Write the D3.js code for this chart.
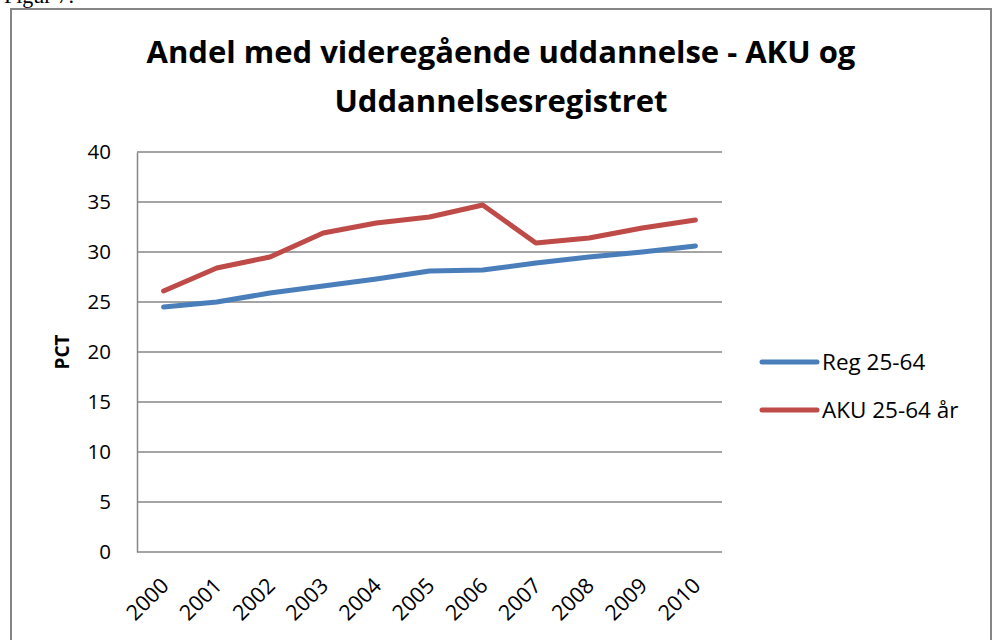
<!DOCTYPE html>
<html>
<head>
<meta charset="utf-8">
<script src="https://cdn.jsdelivr.net/npm/d3@7"></script>
<style>
  body { margin: 0; background: #fff; }
  svg { display: block; }
</style>
</head>
<body>
<svg id="chart" width="996" height="640"></svg>
<script>
const years = ["2000", "2001", "2002", "2003", "2004", "2005", "2006", "2007", "2008", "2009", "2010"];
const regValues = [24.5, 25.0, 25.9, 26.6, 27.3, 28.1, 28.2, 28.9, 29.5, 30.0, 30.6];
const akuValues = [26.1, 28.4, 29.5, 31.9, 32.9, 33.5, 34.7, 30.9, 31.4, 32.4, 33.2];
const yTicks = [0, 5, 10, 15, 20, 25, 30, 35, 40];
const seriesNames = ["Reg 25-64", "AKU 25-64 år"];
const seriesColors = ["#4a7ebb", "#be4b48"];
const titleLines = ["Andel med videregående uddannelse - AKU og", "Uddannelsesregistret"];

const font = "'Open Sans', Lato, sans-serif";
const svg = d3.select("#chart");

// caption above the chart, mostly cut off
svg.append("text")
  .attr("x", 4).attr("y", 3)
  .attr("font-family", "'Liberation Serif', serif")
  .attr("font-size", 22)
  .text("Figur 7:");

// chart frame
svg.append("rect")
  .attr("x", 11).attr("y", 9)
  .attr("width", 980).attr("height", 650)
  .attr("fill", "#fff")
  .attr("stroke", "#868686")
  .attr("stroke-width", 2);

const plot = { left: 137, right: 722, top: 152, bottom: 552 };

const x = d3.scalePoint()
  .domain(years)
  .range([plot.left, plot.right])
  .padding(0.5);

const y = d3.scaleLinear()
  .domain([0, 40])
  .range([plot.bottom, plot.top]);

// title
svg.append("text")
  .attr("x", 501).attr("y", 63)
  .attr("text-anchor", "middle")
  .attr("font-family", font)
  .attr("font-weight", "bold")
  .attr("font-size", 31)
  .selectAll("tspan")
  .data(titleLines)
  .join("tspan")
  .attr("x", 501)
  .attr("dy", (d, i) => i === 0 ? 0 : 49)
  .text(d => d);

// gridlines
svg.append("g")
  .selectAll("line")
  .data(yTicks.filter(t => t > 0))
  .join("line")
  .attr("x1", plot.left).attr("x2", plot.right)
  .attr("y1", d => y(d)).attr("y2", d => y(d))
  .attr("stroke", "#868686")
  .attr("stroke-width", 1.5);

// y axis
const yAxis = svg.append("g")
  .attr("transform", `translate(${plot.left},0)`)
  .call(d3.axisLeft(y).tickValues(yTicks).tickSize(0).tickPadding(26));
yAxis.select(".domain").attr("stroke", "#868686").attr("stroke-width", 1.5);
yAxis.selectAll("text")
  .attr("font-family", font)
  .attr("font-size", 20.5)
  .attr("fill", "#000");

// x axis
const xAxis = svg.append("g")
  .attr("transform", `translate(0,${plot.bottom})`)
  .call(d3.axisBottom(x).tickSize(0).tickPadding(0));
xAxis.select(".domain")
  .attr("d", `M${plot.left},0H${plot.right}`)
  .attr("stroke", "#868686").attr("stroke-width", 1.5);
xAxis.selectAll("text")
  .attr("font-family", font)
  .attr("font-size", 21.5)
  .attr("fill", "#000")
  .attr("text-anchor", "end")
  .attr("dy", 0)
  .attr("transform", "translate(6,35) rotate(-45)");

// y axis title
svg.append("text")
  .attr("transform", "translate(69,352) rotate(-90)")
  .attr("text-anchor", "middle")
  .attr("font-family", font)
  .attr("font-weight", "bold")
  .attr("font-size", 19)
  .text("PCT");

// lines
const line = d3.line()
  .x((d, i) => x(years[i]))
  .y(d => y(d));

[regValues, akuValues].forEach((vals, k) => {
  svg.append("path")
    .datum(vals)
    .attr("d", line)
    .attr("fill", "none")
    .attr("stroke", seriesColors[k])
    .attr("stroke-width", 5)
    .attr("stroke-linejoin", "round")
    .attr("stroke-linecap", "round");
});

// legend
const legend = svg.append("g")
  .selectAll("g")
  .data(seriesNames)
  .join("g")
  .attr("transform", (d, i) => `translate(762,${362 + i * 48})`);

legend.append("line")
  .attr("x1", 0).attr("x2", 55)
  .attr("stroke", (d, i) => seriesColors[i])
  .attr("stroke-width", 5)
  .attr("stroke-linecap", "round");

legend.append("text")
  .attr("x", 60)
  .attr("dy", "0.35em")
  .attr("font-family", font)
  .attr("font-size", 22.5)
  .text(d => d);
</script>
</body>
</html>
